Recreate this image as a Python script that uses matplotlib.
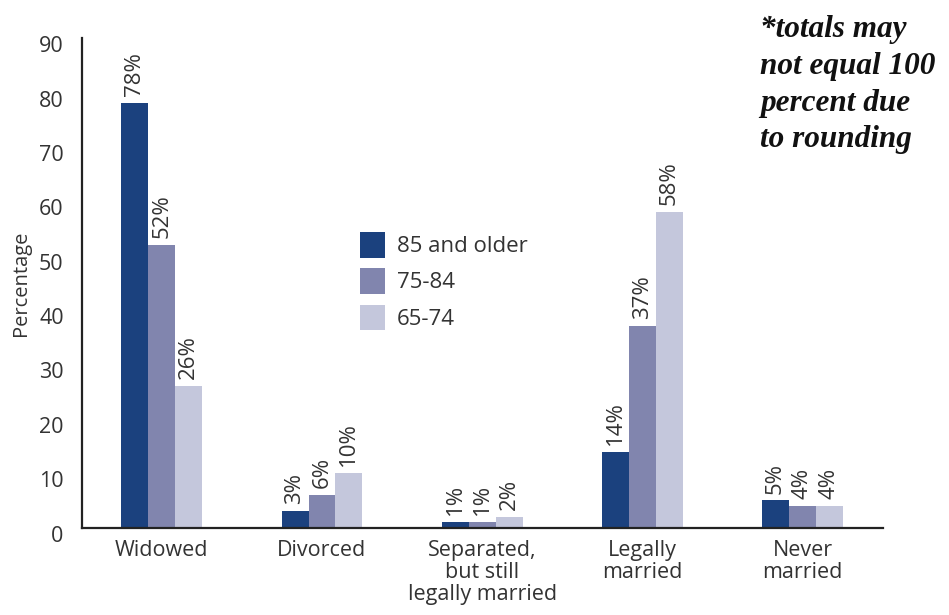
import numpy as np
import matplotlib
matplotlib.use('Agg')
import matplotlib.pyplot as plt
import matplotlib.transforms as mtransforms

# data
categories = ['Widowed', 'Divorced', 'Separated,\nbut still\nlegally married',
              'Legally\nmarried', 'Never\nmarried']
groups = ['85 and older', '75-84', '65-74']
pct_85 = [78, 3, 1, 14, 5]
pct_75 = [52, 6, 1, 37, 4]
pct_65 = [26, 10, 2, 58, 4]
yticks = [0, 10, 20, 30, 40, 50, 60, 70, 80, 90]

colors = ['#1b417e', '#8185ae', '#c4c7dc']
txt = '#333333'

plt.rcParams['font.family'] = ['Open Sans', 'DejaVu Sans']

fig = plt.figure(figsize=(9.49, 6.15), dpi=100)
ax = fig.add_axes([0.0861, 0.142, 0.8439, 0.796])

x = np.arange(len(categories))
w = 0.168
series = [pct_85, pct_75, pct_65]
for i, (vals, col, lab) in enumerate(zip(series, colors, groups)):
    xs = x + (i - 1) * w
    ax.bar(xs, vals, width=w, color=col, label=lab, edgecolor='none')
    for xi, v in zip(xs, vals):
        ax.annotate('%d%%' % v, xy=(xi, v), xytext=(0, 5), textcoords='offset points',
                    rotation=90, ha='center', va='bottom', fontsize=16, color=txt)

ax.set_xlim(-0.5, 4.5)
ax.set_ylim(0, 90)
ax.set_yticks(yticks)
ax.set_xticks(x)
ax.set_xticklabels(categories, fontsize=15.5, color=txt, linespacing=1.07)
ax.tick_params(axis='both', length=0, labelsize=15.5, colors=txt)
ax.tick_params(axis='y', pad=13)
ax.tick_params(axis='x', pad=9)

# y tick labels sit a bit below their gridline in the original
off = mtransforms.ScaledTranslation(0, -6 / 100.0, fig.dpi_scale_trans)
for lbl in ax.get_yticklabels():
    lbl.set_transform(lbl.get_transform() + off)

for s in ['top', 'right']:
    ax.spines[s].set_visible(False)
ax.spines['left'].set_linewidth(1.6)
ax.spines['bottom'].set_linewidth(1.6)
ax.spines['left'].set_color('#222222')
ax.spines['bottom'].set_color('#222222')

ax.set_ylabel('Percentage', fontsize=14.5, color=txt, labelpad=6)

ax.legend(loc='upper left', bbox_to_anchor=(0.322, 0.645), frameon=False,
          fontsize=16, handlelength=1.14, handleheight=1.4, handletextpad=0.55,
          labelspacing=0.48, labelcolor=txt)

fig.text(0.801, 0.975, '*totals may\nnot equal 100\npercent due\nto rounding',
         fontsize=22.5, fontstyle='italic', fontweight='bold', family='Liberation Serif',
         ha='left', va='top', linespacing=1.35, color='#111111')

fig.savefig('out.png', dpi=100)
